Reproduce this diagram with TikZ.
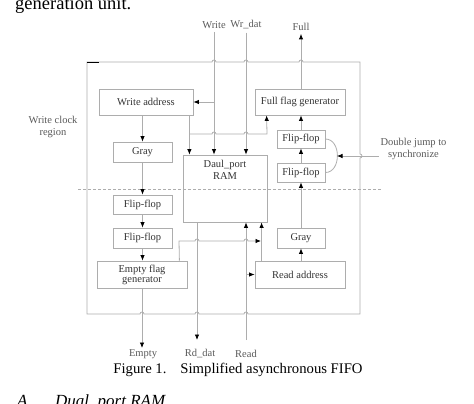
\documentclass[tikz,border=0pt]{standalone}
\usepackage{fontspec}
\setmainfont{Liberation Serif}
\usetikzlibrary{arrows.meta}
\definecolor{linegray}{gray}{0.68}
\definecolor{textgray}{gray}{0.2}
\definecolor{lblgray}{gray}{0.35}

\begin{document}
\begin{tikzpicture}[x=1pt,y=-1pt,
    box/.style={draw=linegray,line width=0.8pt,inner sep=0pt,text=textgray,
      font=\fontsize{10.5}{12}\selectfont,align=center},
    wire/.style={draw=linegray,line width=0.8pt},
    arr/.style={wire,-{Latex[black,length=5.5pt,width=4.5pt]}},
    lbl/.style={text=lblgray,font=\fontsize{10.5}{12.5}\selectfont,align=center,inner sep=3pt}]
  \useasboundingbox (0,0) rectangle (474,404);

  % text of the page round the figure
  \node[anchor=base west,inner sep=0pt,font=\fontsize{18.5}{22}\selectfont] (pagetext) at (15,10) {generation unit.};
  \node[anchor=base west,inner sep=0pt,font=\itshape\fontsize{17}{20}\selectfont] (secno) at (17,406) {A};
  \node[anchor=base west,inner sep=0pt,font=\itshape\fontsize{17}{20}\selectfont] (sectitle) at (55,406) {Dual\_port RAM};

  % clock region frame, hopping over the wires
  \draw[wire] (87,62) -- (212,62) arc[start angle=180,end angle=360,radius=2]
    -- (244,62) arc[start angle=180,end angle=360,radius=2]
    -- (299,62) arc[start angle=180,end angle=360,radius=2]
    -- (360,62) -- (360,154) arc[start angle=-90,end angle=90,radius=2]
    -- (360,314) -- (248,314) arc[start angle=0,end angle=-180,radius=2]
    -- (199,314) arc[start angle=0,end angle=-180,radius=2]
    -- (144,314) arc[start angle=0,end angle=-180,radius=2]
    -- (87,314) -- cycle;
  \draw[black,line width=0.8pt] (87,62) -- (99,62);
  \draw[wire,dash pattern=on 3pt off 2pt] (78,189) -- (382,189);

  % blocks
  \node[box,minimum width=94pt,minimum height=26pt] (wraddr) at (146,102) {Write address};
  \node[box,minimum width=90pt,minimum height=26pt] (fullflag) at (300,102) {Full flag generator};
  \node[box,minimum width=59pt,minimum height=20pt] (graywr) at (142.5,152) {Gray};
  \node[box,minimum width=84pt,minimum height=67pt,
    label={[lbl,text=textgray,anchor=north,yshift=-2pt]north:Daul\_port\\RAM}] (ram) at (225,188.5) {};
  \node[box,minimum width=48pt,minimum height=18pt] (ffrda) at (301,139) {Flip-flop};
  \node[box,minimum width=48pt,minimum height=19pt] (ffrdb) at (301,172.5) {Flip-flop};
  \node[box,minimum width=59pt,minimum height=19pt] (ffwra) at (142.5,204.5) {Flip-flop};
  \node[box,minimum width=59pt,minimum height=20pt] (ffwrb) at (142.5,238) {Flip-flop};
  \node[box,minimum width=90pt,minimum height=27pt] (emptyflag) at (142,274.5) {Empty flag\\[-2pt]generator};
  \node[box,minimum width=48pt,minimum height=20pt] (grayrd) at (301,238) {Gray};
  \node[box,minimum width=90pt,minimum height=27pt] (rdaddr) at (300,274.5) {Read address};

  % outside labels
  \node[lbl] (write) at (214,25) {Write};
  \node[lbl] (wrdat) at (246,25) {Wr\_dat};
  \node[lbl] (full) at (301,27) {Full};
  \node[lbl] (region) at (53,127) {Write clock\\region};
  \node[lbl] (dbljump) at (413.5,149) {Double jump to\\synchronize};
  \node[lbl] (empty) at (143,354) {Empty};
  \node[lbl] (rddat) at (200,354) {Rd\_dat};
  \node[lbl] (read) at (246,354) {Read};
  \node[inner sep=0pt,font=\fontsize{14.7}{17}\selectfont] (caption) at (238,370)
    {Figure 1.\hspace{14pt}Simplified asynchronous FIFO};

  \coordinate (emptyout) at (142,348);
  \coordinate (rdout) at (197,340);
  \coordinate (rdin) at (246,340);
  \coordinate (synctip) at (337,156);
  \coordinate (syncin) at (379,156);

  % write side
  \draw[arr] (write) -- (write |- ram.north);
  \draw[arr] (wrdat) -- (wrdat |- ram.north);
  \draw[arr] (write |- wraddr.east) -- (wraddr.east);
  \draw[arr] (graywr.north |- wraddr.south) -- (graywr.north);
  \draw[arr] ([xshift=-4pt]wraddr.south east) -- ([xshift=-4pt]wraddr.south east |- ram.north);
  \draw[arr] (189,134) -- (212,134) arc[start angle=180,end angle=360,radius=2]
    -- (244,134) arc[start angle=180,end angle=360,radius=2]
    -- (267,134) -- ([xshift=12pt]fullflag.south west);
  \draw[arr] (graywr) -- (ffwra);
  \draw[arr] (ffwra) -- (ffwrb);
  \draw[arr] (ffwrb) -- (ffwrb |- emptyflag.north);
  \draw[arr] (emptyflag.south) -- (emptyout);

  % read side
  \draw[arr] (rdout |- ram.south) -- (rdout);
  \draw[arr] (rdin) -- (rdin |- ram.south);
  \draw[arr] (rdin |- rdaddr.west) -- (rdaddr.west);
  \draw[arr] ([xshift=7pt]rdaddr.north west) -- ([xshift=7pt]rdaddr.north west |- ram.south);
  \draw[arr] ([xshift=-8pt]emptyflag.north east) -- (179,241) -- (195,241)
    arc[start angle=180,end angle=360,radius=2] -- (244,241)
    arc[start angle=180,end angle=360,radius=2] -- (261,241);
  \draw[arr] (grayrd.south |- rdaddr.north) -- (grayrd.south);
  \draw[arr] (grayrd) -- (ffrdb);
  \draw[arr] (ffrdb) -- (ffrda);
  \draw[arr] (ffrda.north) -- (ffrda.north |- fullflag.south);
  \draw[arr] (fullflag.north -| full) -- (full);

  % double synchronizer
  \draw[wire] (ffrda.east) .. controls +(16,0) and +(16,0) .. (ffrdb.east);
  \draw[arr] (syncin) -- (synctip);
\end{tikzpicture}
\end{document}
